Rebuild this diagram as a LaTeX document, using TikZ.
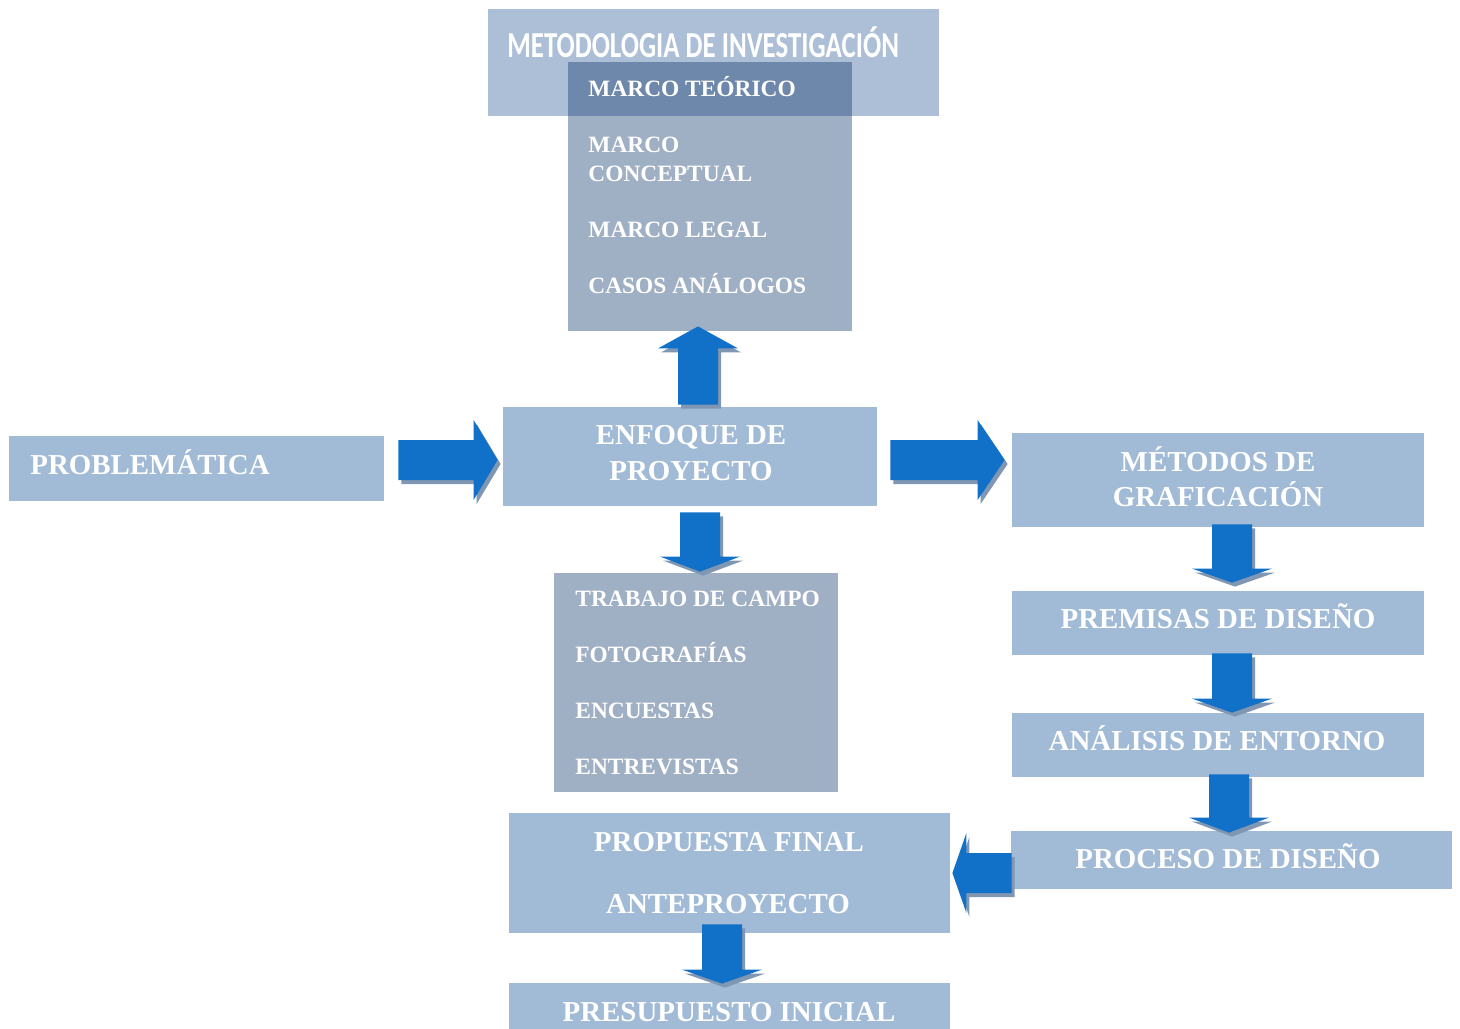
\documentclass[tikz,border=0pt]{standalone}
\usepackage{fontspec}
\setmainfont{Liberation Serif}
\newfontfamily\titlefont[FakeStretch=0.735]{Carlito}
\usetikzlibrary{calc,fit}
\definecolor{boxc}{HTML}{A1BAD6}
\definecolor{titlec}{HTML}{ADBFD6}
\definecolor{listc}{RGB}{5,47,100}
\definecolor{arrc}{HTML}{1170C8}
\definecolor{shdc}{HTML}{8097B3}
\tikzset{
  box/.style={fill=boxc, draw=none, inner sep=0pt},
  titlebox/.style={fill=titlec, draw=none, inner sep=0pt},
  listbox/.style={fill=listc, fill opacity=0.38, draw=none, inner sep=0pt},
  big/.style={text=white, inner sep=0pt, font=\fontsize{14.45}{17.5}\selectfont\bfseries},
  small/.style={text=white, inner sep=0pt, anchor=base west, font=\fontsize{11.7}{14.5}\selectfont\bfseries},
  ttl/.style={text=white, inner sep=0pt, anchor=base west, font=\titlefont\fontsize{18.3}{20}\selectfont\bfseries},
  arrbody/.style={fill=arrc},
  arrshadow/.style={fill=shdc, transform canvas={shift={(1.5pt,-2pt)}}},
}
\newcommand\blkpath[4]{%
  \fill[#4] ($(#1)!10pt!90:(#2)$)
    -- ($(#2)!#3!(#1)!10pt!-90:(#1)$)
    -- ($(#2)!#3!(#1)!20pt!-90:(#1)$)
    -- (#2)
    -- ($(#2)!#3!(#1)!20pt!90:(#1)$)
    -- ($(#2)!#3!(#1)!10pt!90:(#1)$)
    -- ($(#1)!10pt!-90:(#2)$) -- cycle;}
\newcommand\blkarrow[3]{\blkpath{#1}{#2}{#3}{arrshadow}\blkpath{#1}{#2}{#3}{arrbody}}
\begin{document}
\begin{tikzpicture}[x=0.5pt,y=-0.5pt]
\useasboundingbox (0,0) rectangle (1460,1028);
\clip (0,0) rectangle (1460,1028);
% boxes
\node[titlebox, fit={(488,9) (939,116)}] (title) {};
\node[listbox, fit={(568,62) (852,331)}] (marco) {};
\node[box, fit={(503,407) (877,506)}] (enfoque) {};
\node[box, fit={(9,436) (384,501)}] (problem) {};
\node[box, fit={(1012,433) (1424,527)}] (metodos) {};
\node[listbox, fit={(554,573) (838,792)}] (trabajo) {};
\node[box, fit={(1012,591) (1424,655)}] (premisas) {};
\node[box, fit={(1012,713) (1424,777)}] (analisis) {};
\node[box, fit={(1011,831) (1452,889)}] (proceso) {};
\node[box, fit={(509,813) (950,933)}] (propuesta) {};
\node[box, fit={(509,983) (950,1040)}] (presupuesto) {};
% texts
\node[ttl] (t-title) at (507,57) {METODOLOGIA DE INVESTIGACIÓN};
\node[small] (t-m1) at (588,96) {MARCO TEÓRICO};
\node[small] (t-m2) at (588,152) {MARCO};
\node[small] (t-m3) at (588,181) {CONCEPTUAL};
\node[small] (t-m4) at (588,237) {MARCO LEGAL};
\node[small] (t-m5) at (588,293) {CASOS ANÁLOGOS};
\node[small] (t-c1) at (575,606) {TRABAJO DE CAMPO};
\node[small] (t-c2) at (575,662) {FOTOGRAFÍAS};
\node[small] (t-c3) at (575,718) {ENCUESTAS};
\node[small] (t-c4) at (575,774) {ENTREVISTAS};
\node[big, anchor=base west] (t-prob) at (30,474) {PROBLEMÁTICA};
\node[big, anchor=base] (t-enf1) at (691,444) {ENFOQUE DE};
\node[big, anchor=base] (t-enf2) at (691,480) {PROYECTO};
\node[big, anchor=base] (t-met1) at (1218,471) {MÉTODOS DE};
\node[big, anchor=base] (t-met2) at (1218,506) {GRAFICACIÓN};
\node[big, anchor=base] (t-pre) at (1218,628) {PREMISAS DE DISEÑO};
\node[big, anchor=base] (t-ana) at (1217,750) {ANÁLISIS DE ENTORNO};
\node[big, anchor=base] (t-proc) at (1228,868) {PROCESO DE DISEÑO};
\node[big, anchor=base] (t-prop1) at (729,851) {PROPUESTA FINAL};
\node[big, anchor=base] (t-prop2) at (728,913) {ANTEPROYECTO};
\node[big, anchor=base] (t-pres) at (729,1021) {PRESUPUESTO INICIAL};
% arrow ends
\coordinate (a1s) at ($(problem.east)+(14,-8.5)$);
\coordinate (a1t) at ($(enfoque.west)+(-5,3.5)$);
\coordinate (a2s) at ($(enfoque.east)+(13,3.5)$);
\coordinate (a2t) at ($(metodos.west)+(-7,-20)$);
\coordinate (a3s) at ($(enfoque.north)+(8,-2)$);
\coordinate (a3t) at ($(marco.south)+(-12,-5)$);
\coordinate (a4s) at ($(enfoque.south)+(10,6)$);
\coordinate (a4t) at ($(trabajo.north)+(4,-1)$);
\coordinate (a5s) at ($(metodos.south)+(14,-3)$);
\coordinate (a5t) at ($(premisas.north)+(14,-8)$);
\coordinate (a6s) at ($(premisas.south)+(14,-2)$);
\coordinate (a6t) at ($(analisis.north)+(14,0)$);
\coordinate (a7s) at ($(analisis.south)+(11,-3)$);
\coordinate (a7t) at ($(proceso.north)+(-2.5,2)$);
\coordinate (a8s) at ($(proceso.west)+(1,13)$);
\coordinate (a8t) at ($(propuesta.east)+(2,0)$);
\coordinate (a9s) at ($(propuesta.south)+(-7.5,-9)$);
\coordinate (a9t) at ($(presupuesto.north)+(-7.5,1)$);
% arrows
\blkarrow{a1s}{a1t}{12pt}
\blkarrow{a2s}{a2t}{13.5pt}
\blkarrow{a3s}{a3t}{11pt}
\blkarrow{a4s}{a4t}{7.5pt}
\blkarrow{a5s}{a5t}{7pt}
\blkarrow{a6s}{a6t}{7pt}
\blkarrow{a7s}{a7t}{7.5pt}
\blkarrow{a8s}{a8t}{7pt}
\blkarrow{a9s}{a9t}{7pt}
\end{tikzpicture}
\end{document}
